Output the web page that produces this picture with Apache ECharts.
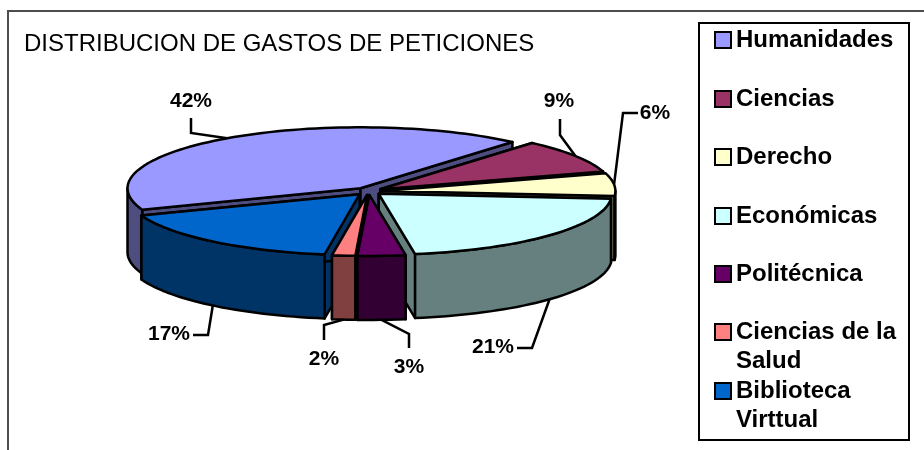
<!DOCTYPE html>
<html>
<head>
<meta charset="utf-8">
<style>html,body{margin:0;padding:0;background:#fff}#chart{width:924px;height:450px}</style>
<script src="https://cdn.jsdelivr.net/npm/echarts@6/dist/echarts.min.js"></script>
</head>
<body>
<div id="chart"></div>
<script>
// values, labels show them rounded
const categories = ['Humanidades', 'Ciencias', 'Derecho', 'Económicas', 'Politécnica', 'Ciencias de la\nSalud', 'Biblioteca\nVirttual'];
const values = [42.0, 9.0, 6.0, 21.2, 3.3, 1.6, 16.9];
const topColors = ['#9999FF', '#993366', '#FFFFCC', '#CCFFFF', '#660066', '#FF8080', '#0066CC'];
const sideColors = ['#4D4D80', '#4D1A33', '#808066', '#668080', '#330033', '#804040', '#003366'];
const titleText = 'DISTRIBUCION DE GASTOS DE PETICIONES';

// elbow and end of each leader line, then the label centre
const leaderBends = [[[191, 133], [191, 118]], [[560, 135], [560, 119]], [[623, 113], [638, 113]], [[532, 348], [517, 348]], [[409, 334], [409, 348]], [[324, 325], [324, 340]], [[208, 335], [193, 335]]];
const labelCentres = [[191, 101], [559, 101], [655, 113], [493, 347], [409, 367], [324, 359], [169, 334]];
const legendRows = [40, 99, 157, 216, 274, 332, 391];

const FONT = '"Liberation Sans", Arial, sans-serif';
const CX = 368.5, CY = 191.3, RX = 233, RY = 61, DEPTH = 64, EXPLODE = 0.06, START = 200.5;
const total = values.reduce((a, b) => a + b, 0);
const rad = d => d * Math.PI / 180;

// slices run clockwise from START
let acc = START;
const slices = values.map((v, i) => {
    const from = acc;
    acc -= v / total * 360;
    const mid = (from + acc) / 2;
    return {
        i, from, to: acc, mid,
        ax: CX + EXPLODE * RX * Math.cos(rad(mid)),
        ay: CY - EXPLODE * RY * Math.sin(rad(mid))
    };
});
const rim = (s, a) => [s.ax + RX * Math.cos(rad(a)), s.ay - RY * Math.sin(rad(a))];
const down = p => [p[0], p[1] + DEPTH];
const arcPoints = (s, a, b) => {
    const n = Math.max(2, Math.ceil(Math.abs(a - b) / 2));
    const pts = [];
    for (let k = 0; k <= n; k++) pts.push(rim(s, a + (b - a) * k / n));
    return pts;
};

// back slices first so the front ones paint over them
const paintOrder = slices.slice().sort((a, b) => Math.sin(rad(b.mid)) - Math.sin(rad(a.mid))).map(s => s.i);

const face = (points, fill) => ({
    type: 'polygon',
    shape: { points },
    style: { fill, stroke: '#000', lineWidth: 2.5, lineJoin: 'round' }
});

function renderSlice(params, api) {
    const s = slices[api.value(0)];
    const side = sideColors[s.i], apex = [s.ax, s.ay];
    const children = [];
    [s.from, s.to].forEach(a => {
        const p = rim(s, a);
        children.push(face([apex, p, down(p), down(apex)], side));
    });
    // only the part of the rim that faces the viewer
    for (const [lo, hi] of [[-180, 0], [180, 360]]) {
        const a = Math.min(s.from, hi), b = Math.max(s.to, lo);
        if (a > b) {
            const arc = arcPoints(s, a, b);
            children.push(face(arc.concat(arc.map(down).reverse()), side));
        }
    }
    children.push(face([apex].concat(arcPoints(s, s.from, s.to)), topColors[s.i]));
    return { type: 'group', children };
}

function renderLabel(params, api) {
    const i = api.value(0), s = slices[i];
    let start = rim(s, s.mid);
    if (Math.sin(rad(s.mid)) < 0) start = down(start);
    return {
        type: 'group',
        children: [{
            type: 'polyline',
            shape: { points: [start].concat(leaderBends[i]) },
            style: { fill: 'none', stroke: '#000', lineWidth: 2.5 }
        }, {
            type: 'text',
            style: {
                x: labelCentres[i][0], y: labelCentres[i][1],
                text: Math.round(values[i]) + '%',
                font: 'bold 21px ' + FONT,
                fill: '#000', align: 'center', verticalAlign: 'middle'
            }
        }]
    };
}

// legend needs the marker on the first line of wrapped names
const legendGraphics = [{
    type: 'rect',
    shape: { x: 699, y: 23, width: 210, height: 417 },
    style: { fill: '#fff', stroke: '#000', lineWidth: 2 }
}];
categories.forEach((name, i) => {
    legendGraphics.push({
        type: 'rect',
        shape: { x: 715, y: legendRows[i] - 8, width: 16, height: 16 },
        style: { fill: topColors[i], stroke: '#000', lineWidth: 2 }
    });
    name.split('\n').forEach((line, k) => {
        legendGraphics.push({
            type: 'text',
            style: {
                x: 736, y: legendRows[i] + k * 29,
                text: line,
                font: 'bold 24px ' + FONT,
                fill: '#000', verticalAlign: 'middle'
            }
        });
    });
});

const chart = echarts.init(document.getElementById('chart'));
chart.setOption({
    animation: false,
    backgroundColor: '#fff',
    title: {
        text: titleText, left: 24, top: 32, padding: 0,
        textStyle: { fontFamily: FONT, fontSize: 24, fontWeight: 'normal', color: '#000' }
    },
    graphic: [{
        type: 'polyline', z: 0,
        shape: { points: [[8, 450], [8, 11], [924, 11]] },
        style: { fill: 'none', stroke: '#4d4d4d', lineWidth: 2 }
    }].concat(legendGraphics),
    series: [{
        type: 'custom', coordinateSystem: 'none', z: 2,
        data: paintOrder.map(i => [i]),
        renderItem: renderSlice
    }, {
        type: 'custom', coordinateSystem: 'none', z: 3,
        data: categories.map((c, i) => [i]),
        renderItem: renderLabel
    }]
});
</script>
</body>
</html>
